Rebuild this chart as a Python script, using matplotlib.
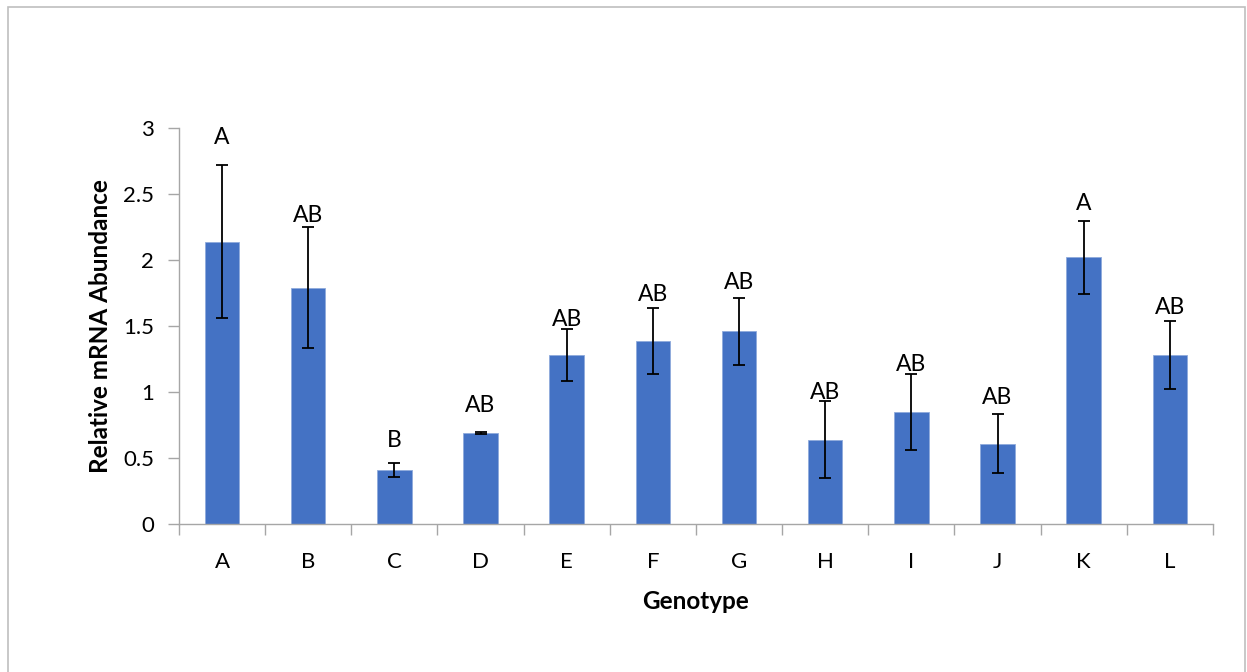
import matplotlib.pyplot as plt
from matplotlib.patches import Rectangle
from matplotlib.ticker import FixedLocator, NullFormatter
import numpy as np

plt.rcParams['font.family'] = ['Lato', 'DejaVu Sans']

genotypes = ['A', 'B', 'C', 'D', 'E', 'F', 'G', 'H', 'I', 'J', 'K', 'L']
abundance = [2.14, 1.79, 0.41, 0.69, 1.28, 1.39, 1.46, 0.64, 0.85, 0.61, 2.02, 1.28]
std_err = [0.58, 0.46, 0.055, 0.005, 0.20, 0.25, 0.255, 0.29, 0.29, 0.22, 0.275, 0.26]
groups = ['A', 'AB', 'B', 'AB', 'AB', 'AB', 'AB', 'AB', 'AB', 'AB', 'A', 'AB']
group_y = [2.93, 2.34, 0.63, 0.90, 1.55, 1.74, 1.83, 1.00, 1.21, 0.96, 2.43, 1.64]

axis_grey = '#a6a6a6'

fig = plt.figure(figsize=(12.47, 6.72), dpi=100)
ax = fig.add_axes([0.1435, 0.2202, 0.8292, 0.5893])

x = np.arange(len(genotypes))
ax.bar(x, abundance, width=0.4, color='#4472C4', edgecolor='#8faadc', linewidth=0.6, zorder=2)
ax.errorbar(x, abundance, yerr=std_err, fmt='none', ecolor='black', elinewidth=1.3,
            capsize=4.5, capthick=1.3, zorder=3)

for xi, g, gy in zip(x, groups, group_y):
    ax.text(xi, gy, g, ha='center', va='center', fontsize=16.5, color='black')

ax.set_xlim(-0.5, len(genotypes) - 0.5)
ax.set_ylim(0, 3)
ax.set_yticks([0, 0.5, 1, 1.5, 2, 2.5, 3])
ax.set_yticklabels(['0', '0.5', '1', '1.5', '2', '2.5', '3'])
ax.set_xticks(x)
ax.set_xticklabels(genotypes)
ax.xaxis.set_minor_locator(FixedLocator(np.arange(-0.5, len(genotypes), 1.0)))
ax.xaxis.set_minor_formatter(NullFormatter())

ax.tick_params(axis='x', which='major', length=0, pad=20, labelsize=16)
ax.tick_params(axis='x', which='minor', length=8, width=1, color=axis_grey)
ax.tick_params(axis='y', length=8, width=1, color=axis_grey, pad=10, labelsize=16)

for side in ['top', 'right']:
    ax.spines[side].set_visible(False)
for side in ['left', 'bottom']:
    ax.spines[side].set_color(axis_grey)
    ax.spines[side].set_linewidth(1)

ax.set_xlabel('Genotype', fontsize=17.5, fontweight='bold', labelpad=13)
ax.set_ylabel('Relative mRNA Abundance', fontsize=17.5, fontweight='bold', labelpad=8)

# thin frame around the chart area
fig.patches.append(Rectangle((0.0064, -0.05), 0.992, 1.0396, transform=fig.transFigure,
                             fill=False, edgecolor='#bfbfbf', linewidth=1.2))

fig.savefig('out.png', dpi=100)
